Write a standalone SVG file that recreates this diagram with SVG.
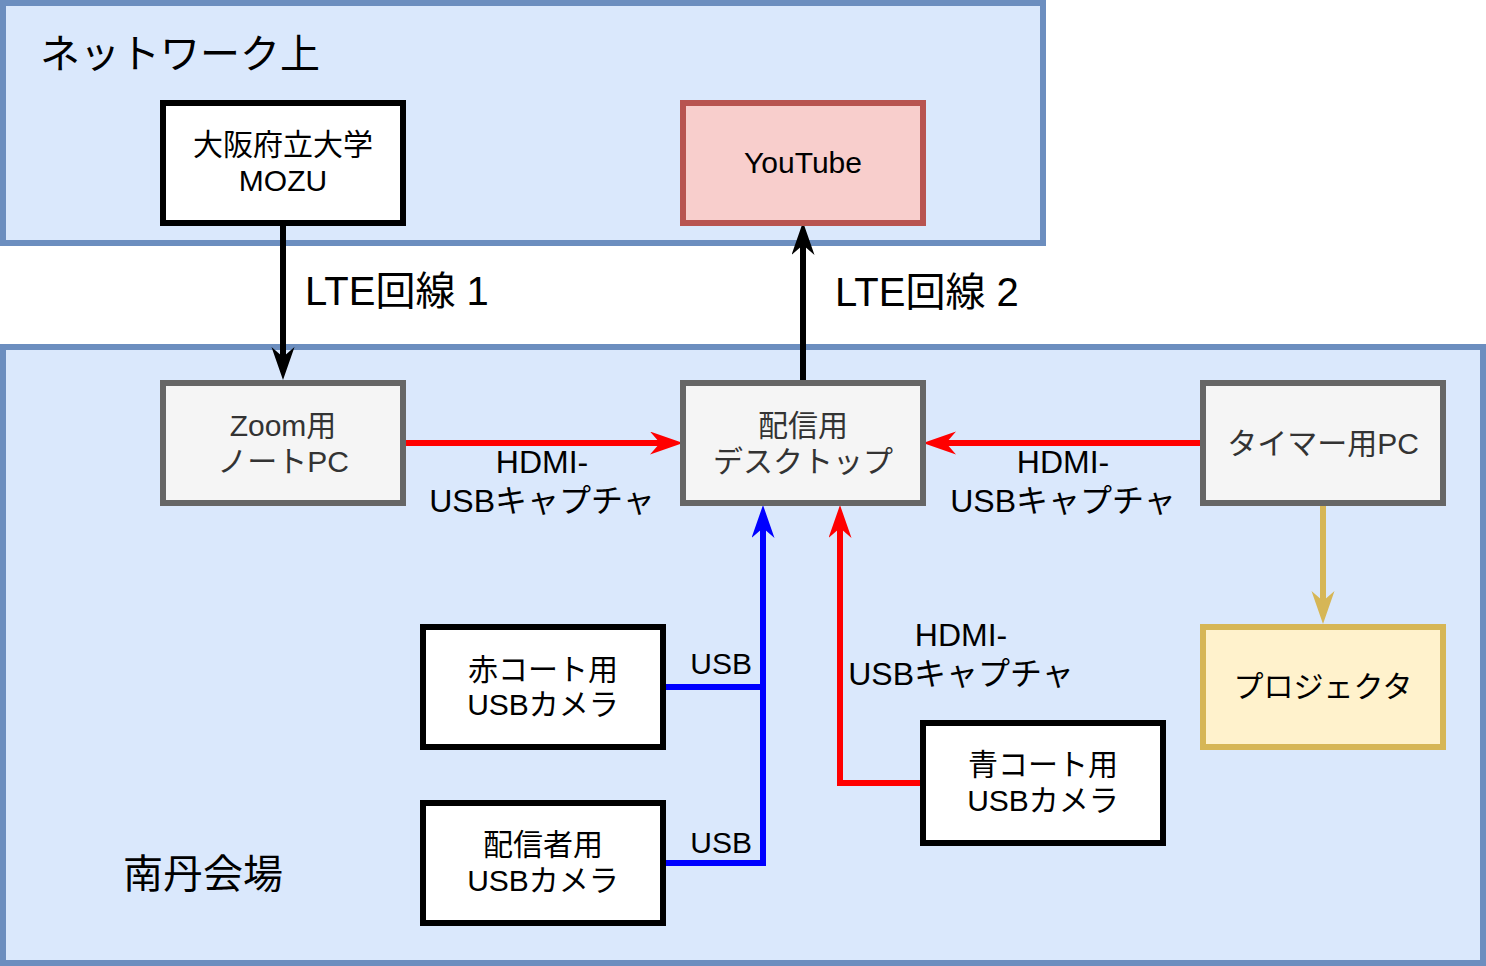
<svg xmlns="http://www.w3.org/2000/svg" width="1486" height="966" viewBox="0 0 1486 966">
<style>
  text { font-family: "Liberation Sans", "Noto Sans CJK JP", sans-serif; }
  .container { fill: #dae8fc; stroke: #6c8ebf; stroke-width: 6; }
  .clabel { font-size: 40px; fill: #000; }
  .box { fill: #ffffff; stroke: #000000; stroke-width: 6; }
  .gray { fill: #f5f5f5; stroke: #666666; stroke-width: 6; }
  .red { fill: #f8cecc; stroke: #b85450; stroke-width: 6; }
  .yellow { fill: #fff2cc; stroke: #d6b656; stroke-width: 6; }
  .nt { font-size: 30px; text-anchor: middle; fill: #000; }
  .gt { font-size: 30px; text-anchor: middle; fill: #333333; }
  .el { font-size: 32px; text-anchor: middle; fill: #000; }
  .usb { font-size: 30px; text-anchor: end; fill: #000; }
  .lte { font-size: 40px; fill: #000; }
  .edge { fill: none; stroke-width: 6; stroke-linejoin: miter; }
</style>
<defs>
  <marker id="arrBlack" markerUnits="userSpaceOnUse" markerWidth="34" markerHeight="24" refX="21" refY="11.5" orient="auto" viewBox="0 0 34 24">
    <path d="M0,0 L33,11.5 L0,23 L10,11.5 Z" fill="#000000"/>
  </marker>
  <marker id="arrRed" markerUnits="userSpaceOnUse" markerWidth="34" markerHeight="24" refX="21" refY="11.5" orient="auto" viewBox="0 0 34 24">
    <path d="M0,0 L33,11.5 L0,23 L10,11.5 Z" fill="#ff0000"/>
  </marker>
  <marker id="arrBlue" markerUnits="userSpaceOnUse" markerWidth="34" markerHeight="24" refX="21" refY="11.5" orient="auto" viewBox="0 0 34 24">
    <path d="M0,0 L33,11.5 L0,23 L10,11.5 Z" fill="#0000ff"/>
  </marker>
  <marker id="arrGold" markerUnits="userSpaceOnUse" markerWidth="34" markerHeight="24" refX="21" refY="11.5" orient="auto" viewBox="0 0 34 24">
    <path d="M0,0 L33,11.5 L0,23 L10,11.5 Z" fill="#d6b656"/>
  </marker>
</defs>

<g id="network-area">
  <rect class="container" x="3" y="3" width="1040" height="240"/>
  <text class="clabel" x="40" y="68">ネットワーク上</text>
</g>
<g id="venue-area">
  <rect class="container" x="3" y="347" width="1480" height="616"/>
  <text class="clabel" x="123" y="888">南丹会場</text>
</g>

<g id="connectors">
  <path class="edge" stroke="#000000" d="M283,223 V368" marker-end="url(#arrBlack)"/>
  <path class="edge" stroke="#000000" d="M803,383 V234" marker-end="url(#arrBlack)"/>
  <path class="edge" stroke="#ff0000" d="M403,443 H671" marker-end="url(#arrRed)"/>
  <path class="edge" stroke="#ff0000" d="M1203,443 H935" marker-end="url(#arrRed)"/>
  <path class="edge" stroke="#0000ff" d="M663,687 H763 V517" marker-end="url(#arrBlue)"/>
  <path class="edge" stroke="#0000ff" d="M663,863 H763 V687"/>
  <path class="edge" stroke="#ff0000" d="M923,783 H840 V517" marker-end="url(#arrRed)"/>
  <path class="edge" stroke="#d6b656" d="M1323,503 V612" marker-end="url(#arrGold)"/>
  <text class="lte" x="305" y="305">LTE回線 1</text>
  <text class="lte" x="835" y="306">LTE回線 2</text>
  <text class="el" x="542" y="473">HDMI-</text>
  <text class="el" x="542" y="512">USBキャプチャ</text>
  <text class="el" x="1063" y="473">HDMI-</text>
  <text class="el" x="1063" y="512">USBキャプチャ</text>
  <text class="el" x="961" y="646">HDMI-</text>
  <text class="el" x="961" y="685">USBキャプチャ</text>
  <text class="usb" x="752" y="674">USB</text>
  <text class="usb" x="752" y="853">USB</text>
</g>

<g id="mozu">
  <rect class="box" x="163" y="103" width="240" height="120"/>
  <text class="nt" x="283" y="155">大阪府立大学</text>
  <text class="nt" x="283" y="191">MOZU</text>
</g>
<g id="youtube">
  <rect class="red" x="683" y="103" width="240" height="120"/>
  <text class="nt" x="803" y="173">YouTube</text>
</g>
<g id="zoom-pc">
  <rect class="gray" x="163" y="383" width="240" height="120"/>
  <text class="gt" x="283" y="436">Zoom用</text>
  <text class="gt" x="283" y="472">ノートPC</text>
</g>
<g id="desktop">
  <rect class="gray" x="683" y="383" width="240" height="120"/>
  <text class="gt" x="803" y="436">配信用</text>
  <text class="gt" x="803" y="472">デスクトップ</text>
</g>
<g id="timer-pc">
  <rect class="gray" x="1203" y="383" width="240" height="120"/>
  <text class="gt" x="1323" y="454">タイマー用PC</text>
</g>
<g id="red-court-camera">
  <rect class="box" x="423" y="627" width="240" height="120"/>
  <text class="nt" x="543" y="680">赤コート用</text>
  <text class="nt" x="543" y="715">USBカメラ</text>
</g>
<g id="streamer-camera">
  <rect class="box" x="423" y="803" width="240" height="120"/>
  <text class="nt" x="543" y="855">配信者用</text>
  <text class="nt" x="543" y="891">USBカメラ</text>
</g>
<g id="blue-court-camera">
  <rect class="box" x="923" y="723" width="240" height="120"/>
  <text class="nt" x="1043" y="775">青コート用</text>
  <text class="nt" x="1043" y="811">USBカメラ</text>
</g>
<g id="projector">
  <rect class="yellow" x="1203" y="627" width="240" height="120"/>
  <text class="nt" x="1323" y="697">プロジェクタ</text>
</g>
</svg>
